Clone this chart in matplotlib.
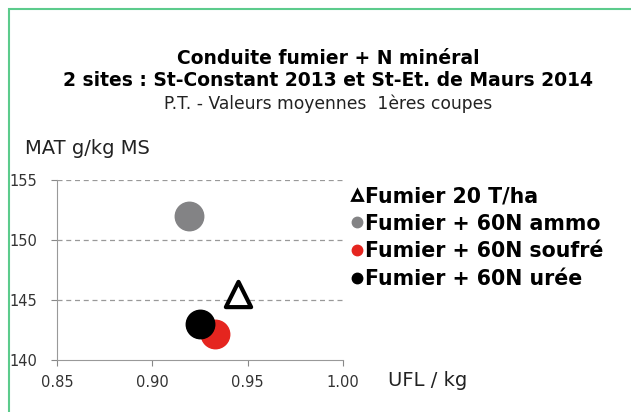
import matplotlib.pyplot as plt
from matplotlib.patches import Rectangle
from matplotlib.lines import Line2D

# Données (UFL/kg, MAT g/kg MS)
labels = ["Fumier 20 T/ha", "Fumier + 60N ammo", "Fumier + 60N soufré", "Fumier + 60N urée"]
ufl = [0.945, 0.919, 0.933, 0.925]
mat = [145.5, 152.0, 142.2, 143.0]
colors = ["white", "#838385", "#e5251f", "black"]
markers = ["^", "o", "o", "o"]

xticks = [0.85, 0.90, 0.95, 1.00]
yticks = [140, 145, 150, 155]

fig = plt.figure(figsize=(6.31, 4.12), dpi=100)
ax = fig.add_axes([57 / 631, 1 - 360 / 412, 286 / 631, 180 / 412])

# cadre vert autour du graphique
fig.patches.append(Rectangle((9 / 631, -0.1), 1.2, 1 - 9 / 412 + 0.1,
                             transform=fig.transFigure, fill=False,
                             edgecolor="#5ccb8c", linewidth=1.5))

handles = []
for i in range(len(labels)):
    if markers[i] == "^":
        ax.scatter(ufl[i], mat[i], s=330, marker="^", facecolor="white",
                   edgecolor="black", linewidth=3, zorder=3)
        handles.append(Line2D([], [], marker="^", linestyle="none", markersize=7,
                              markerfacecolor="white", markeredgecolor="black",
                              markeredgewidth=2, label=labels[i]))
    else:
        ax.scatter(ufl[i], mat[i], s=420, marker="o", color=colors[i], zorder=3)
        handles.append(Line2D([], [], marker="o", linestyle="none", markersize=7.5,
                              color=colors[i], label=labels[i]))

ax.set_xlim(0.85, 1.00)
ax.set_ylim(140, 155)
ax.set_xticks(xticks)
ax.set_yticks(yticks)
ax.set_xticklabels(["%.2f" % v for v in xticks])
ax.tick_params(axis="both", labelsize=10.5, colors="#888888", labelcolor="#333333", length=4)
ax.tick_params(axis="y", pad=10)
ax.tick_params(axis="x", pad=7)
for y in yticks[1:]:
    ax.axhline(y, color="#999999", linestyle=(0, (4, 3)), linewidth=0.9, zorder=1)
for s in ["top", "right"]:
    ax.spines[s].set_visible(False)
for s in ["left", "bottom"]:
    ax.spines[s].set_color("#999999")

fig.text(25 / 631, 1 - 148 / 412, "MAT g/kg MS", fontsize=14, color="#222222", va="center")
fig.text(388 / 631, 1 - 380 / 412, "UFL / kg", fontsize=14, color="#222222", va="center")

fig.text(328 / 631, 1 - 58 / 412, "Conduite fumier + N minéral", fontsize=13.5,
         fontweight="bold", ha="center", va="center")
fig.text(328 / 631, 1 - 81 / 412, "2 sites : St-Constant 2013 et St-Et. de Maurs 2014",
         fontsize=13.5, fontweight="bold", ha="center", va="center")
fig.text(328 / 631, 1 - 104 / 412, "P.T. - Valeurs moyennes  1ères coupes", fontsize=12.3,
         color="#222222", ha="center", va="center")

leg = ax.legend(handles=handles, loc="upper left", bbox_to_anchor=(351 / 631, 1 - 186 / 412),
                bbox_transform=fig.transFigure, frameon=False,
                handletextpad=0.1, labelspacing=0.37, handlelength=0.6,
                borderaxespad=0, borderpad=0, prop={"weight": "bold", "size": 14.8})

fig.savefig("out.png", dpi=100)
